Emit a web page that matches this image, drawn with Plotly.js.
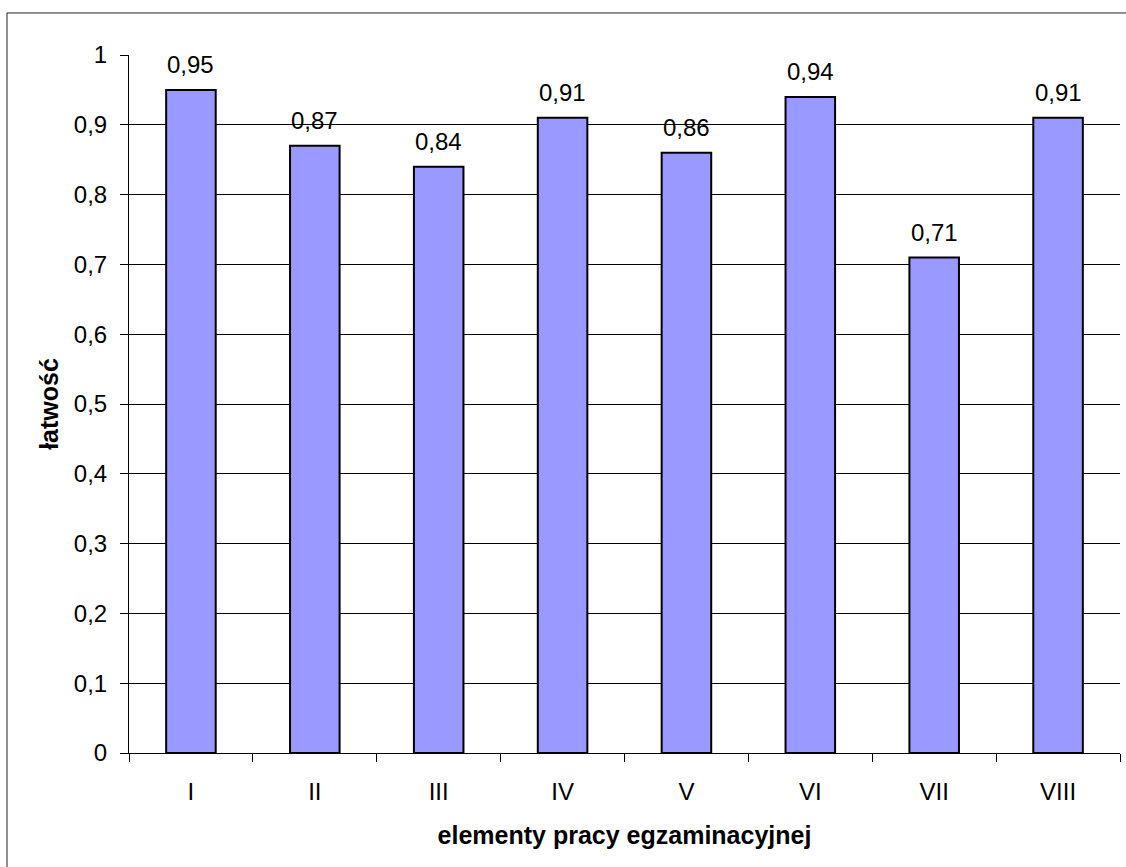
<!DOCTYPE html>
<html>
<head>
<meta charset="utf-8">
<script src="https://cdn.plot.ly/plotly-3.0.1.min.js"></script>
<style>
html,body{margin:0;padding:0;background:#fff;}
#chart{width:1126px;height:867px;}
</style>
</head>
<body>
<div id="chart"></div>
<script>
var categories = ["I", "II", "III", "IV", "V", "VI", "VII", "VIII"];
var values = [0.95, 0.87, 0.84, 0.91, 0.86, 0.94, 0.71, 0.91];
var yTickValues = [0, 0.1, 0.2, 0.3, 0.4, 0.5, 0.6, 0.7, 0.8, 0.9, 1];

var FONT = "Liberation Sans, Arial, sans-serif";

var trace = {
  type: "bar",
  x: categories,
  y: values,
  width: 0.4,
  marker: {color: "#9999FF", line: {color: "#000000", width: 2}},
  hoverinfo: "none"
};

var annotations = categories.map(function(c, i) {
  return {
    x: c, y: values[i], xref: "x", yref: "y",
    text: values[i].toFixed(2).replace(".", ","),
    showarrow: false, yanchor: "middle", yshift: 25,
    font: {family: FONT, size: 24, color: "#000"}
  };
});

var layout = {
  width: 1126, height: 867,
  margin: {l: 129, r: 6, t: 55, b: 114, pad: 0},
  paper_bgcolor: "#ffffff", plot_bgcolor: "#ffffff",
  separators: ", ",
  showlegend: false,
  font: {family: FONT, size: 24, color: "#000"},
  xaxis: {
    type: "category",
    tickson: "boundaries",
    ticks: "outside", ticklen: 8, tickcolor: "#000", tickwidth: 1,
    showline: true, linecolor: "#000", linewidth: 1,
    showgrid: false,
    ticklabelstandoff: 17,
    tickfont: {family: FONT, size: 24, color: "#000"},
    title: {text: "elementy pracy egzaminacyjnej", font: {family: FONT, size: 25, color: "#000", weight: "bold"}, standoff: 22},
    automargin: false
  },
  yaxis: {
    range: [0, 1], tickvals: yTickValues, tickformat: ".1~f",
    ticks: "outside", ticklen: 8, tickcolor: "#000", tickwidth: 1,
    showline: true, linecolor: "#000", linewidth: 1,
    showgrid: true, gridcolor: "#000", gridwidth: 1,
    zeroline: false,
    ticklabelstandoff: 8,
    tickfont: {family: FONT, size: 24, color: "#000"},
    title: {text: "łatwość", font: {family: FONT, size: 25, color: "#000", weight: "bold"}, standoff: 8},
    automargin: false,
    fixedrange: true
  },
  annotations: annotations,
  shapes: [{
    type: "rect", xref: "paper", yref: "paper",
    x0: -0.1231, x1: 1.02, y0: -0.2, y1: 1.0602,
    line: {color: "#222", width: 1}, fillcolor: "rgba(0,0,0,0)", layer: "below"
  }]
};

Plotly.newPlot("chart", [trace], layout, {staticPlot: true, displayModeBar: false});
</script>
</body>
</html>
